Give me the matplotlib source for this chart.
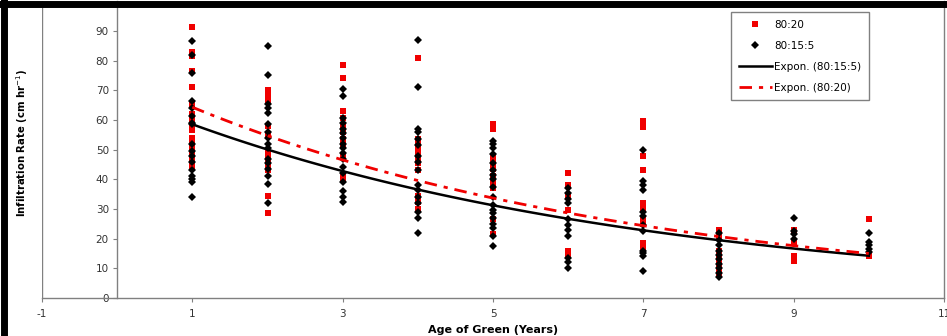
import numpy as np
import matplotlib.pyplot as plt
from matplotlib.lines import Line2D

plt.rcParams['font.family'] = ['DejaVu Sans']
plt.rcParams['axes.unicode_minus'] = False

ages = [1, 2, 3, 4, 5, 6, 7, 8, 9, 10]

# 80:20 mix (red squares), one list per age
red_vals = [
    [91.5, 83.0, 81.5, 76.5, 71.0, 65.5, 62.0, 60.5, 58.5, 56.5, 54.0, 52.0, 50.0, 48.0, 47.0, 45.5, 44.0],
    [70.0, 69.0, 68.0, 67.0, 66.0, 58.0, 55.0, 49.0, 47.5, 46.0, 44.5, 43.0, 34.5, 28.5],
    [78.5, 74.0, 63.0, 60.5, 58.0, 56.0, 53.5, 51.5, 48.0, 41.5, 40.5],
    [81.0, 53.5, 51.5, 49.5, 47.5, 45.5, 43.0, 34.5, 32.5, 30.0],
    [58.5, 57.0, 47.5, 46.0, 45.0, 43.5, 41.0, 39.0, 37.0, 26.5, 21.5],
    [42.0, 38.0, 34.0, 29.5, 16.0, 14.0],
    [59.5, 57.5, 48.0, 43.0, 32.0, 30.5, 29.5, 27.0, 25.0, 18.5, 17.0],
    [23.0, 20.5, 16.0, 14.0, 12.0, 10.0, 8.5],
    [23.0, 18.5, 14.0, 12.5],
    [26.5, 14.0],
]

# 80:15:5 mix (black diamonds)
black_vals = [
    [86.5, 82.0, 76.0, 66.5, 64.0, 61.5, 59.0, 58.5, 52.0, 49.5, 48.0, 46.0, 43.0, 41.0, 40.0, 39.0, 34.0],
    [85.0, 75.0, 65.5, 64.0, 62.5, 58.5, 56.0, 54.0, 52.0, 50.5, 47.0, 45.5, 43.5, 41.0, 38.5, 32.0],
    [70.5, 68.0, 60.5, 59.0, 57.0, 55.5, 54.0, 52.0, 50.5, 49.0, 47.0, 44.0, 42.0, 39.0, 36.0, 34.0, 32.5],
    [87.0, 71.0, 57.0, 56.0, 53.5, 51.5, 48.0, 46.0, 43.0, 38.0, 36.5, 34.0, 32.0, 29.0, 27.0, 22.0],
    [53.0, 52.0, 50.5, 48.5, 45.5, 43.0, 41.5, 40.0, 37.5, 34.0, 31.5, 29.5, 28.5, 27.0, 25.0, 23.5, 21.0, 17.5],
    [37.0, 35.5, 33.5, 32.0, 26.5, 24.5, 23.0, 21.0, 13.5, 12.0, 10.0],
    [50.0, 39.5, 38.0, 36.5, 29.0, 27.5, 24.5, 22.5, 16.0, 15.0, 14.0, 9.0],
    [22.0, 19.5, 18.0, 16.0, 14.5, 13.0, 11.5, 10.0, 8.5, 7.0],
    [27.0, 22.5, 21.5, 20.0],
    [22.0, 19.0, 18.0, 16.5, 15.5],
]

# exponential trend lines y = a * exp(b * x)
black_a, black_b = 68.5, -0.157
red_a, red_b = 75.6, -0.1617

x_ticks = [-1, 1, 3, 5, 7, 9, 11]
y_ticks = [0, 10, 20, 30, 40, 50, 60, 70, 80, 90]

gray = '#808080'
red = '#f00000'

fig = plt.figure(figsize=(9.47, 3.36), dpi=100)
ax = fig.add_axes([42/947, 38/336, 902/947, 296.7/336])

rx = np.concatenate([[a]*len(v) for a, v in zip(ages, red_vals)])
ry = np.concatenate(red_vals)
bx = np.concatenate([[a]*len(v) for a, v in zip(ages, black_vals)])
by = np.concatenate(black_vals)

ax.plot(rx, ry, 's', color=red, ms=4.4, mew=0, label='80:20', zorder=3)
ax.plot(bx, by, 'D', color='black', ms=3.8, mew=0, label='80:15:5', zorder=4)

xx = np.linspace(1, 10, 100)
ax.plot(xx, black_a*np.exp(black_b*xx), color='black', lw=1.8,
        label='Expon. (80:15:5)', zorder=5)
ax.plot(xx, red_a*np.exp(red_b*xx), color=red, lw=2.0, dashes=(4.5, 2.5, 1.5, 2.5),
        label='Expon. (80:20)', zorder=6)

ax.set_xlim(-1, 11)
ax.set_ylim(0, 100)
ax.set_xticks(x_ticks)
ax.set_yticks(y_ticks)

ax.spines['left'].set_position(('data', 0))
ax.spines['top'].set_visible(False)
for s in ['left', 'right', 'bottom']:
    ax.spines[s].set_color(gray)
    ax.spines[s].set_linewidth(1)
ax.axvline(-1, color=gray, lw=1, zorder=1)

ax.tick_params(axis='both', direction='out', length=3, color=gray,
               labelsize=7.5, labelcolor='#333333')
ax.tick_params(axis='y', pad=3)
ax.tick_params(axis='x', pad=5)

fig.text(22/947, 1 - 143/336, 'Infiltration Rate (cm hr$^{-1}$)', rotation=90,
         ha='center', va='center', fontsize=7.3, fontweight='bold')
fig.text(493/947, 1 - 330/336, 'Age of Green (Years)', ha='center', va='center',
         fontsize=8, fontweight='bold')

leg = ax.legend(loc='upper left', bbox_to_anchor=((731-42)/902, (298-12)/296.7),
                borderaxespad=0, fontsize=7.5, fancybox=False, framealpha=1,
                edgecolor=gray, handlelength=3.2, handletextpad=0.2,
                labelspacing=1.05, borderpad=0.75, numpoints=1)
leg.get_frame().set_linewidth(1)

# thick black border of the original chart (left and top edges)
fig.add_artist(Line2D([3.5/947, 3.5/947], [0, 1], transform=fig.transFigure,
                      color='black', lw=5))
fig.add_artist(Line2D([0, 1], [1 - 3.5/336, 1 - 3.5/336], transform=fig.transFigure,
                      color='black', lw=5))

fig.savefig('out.png', dpi=100)
